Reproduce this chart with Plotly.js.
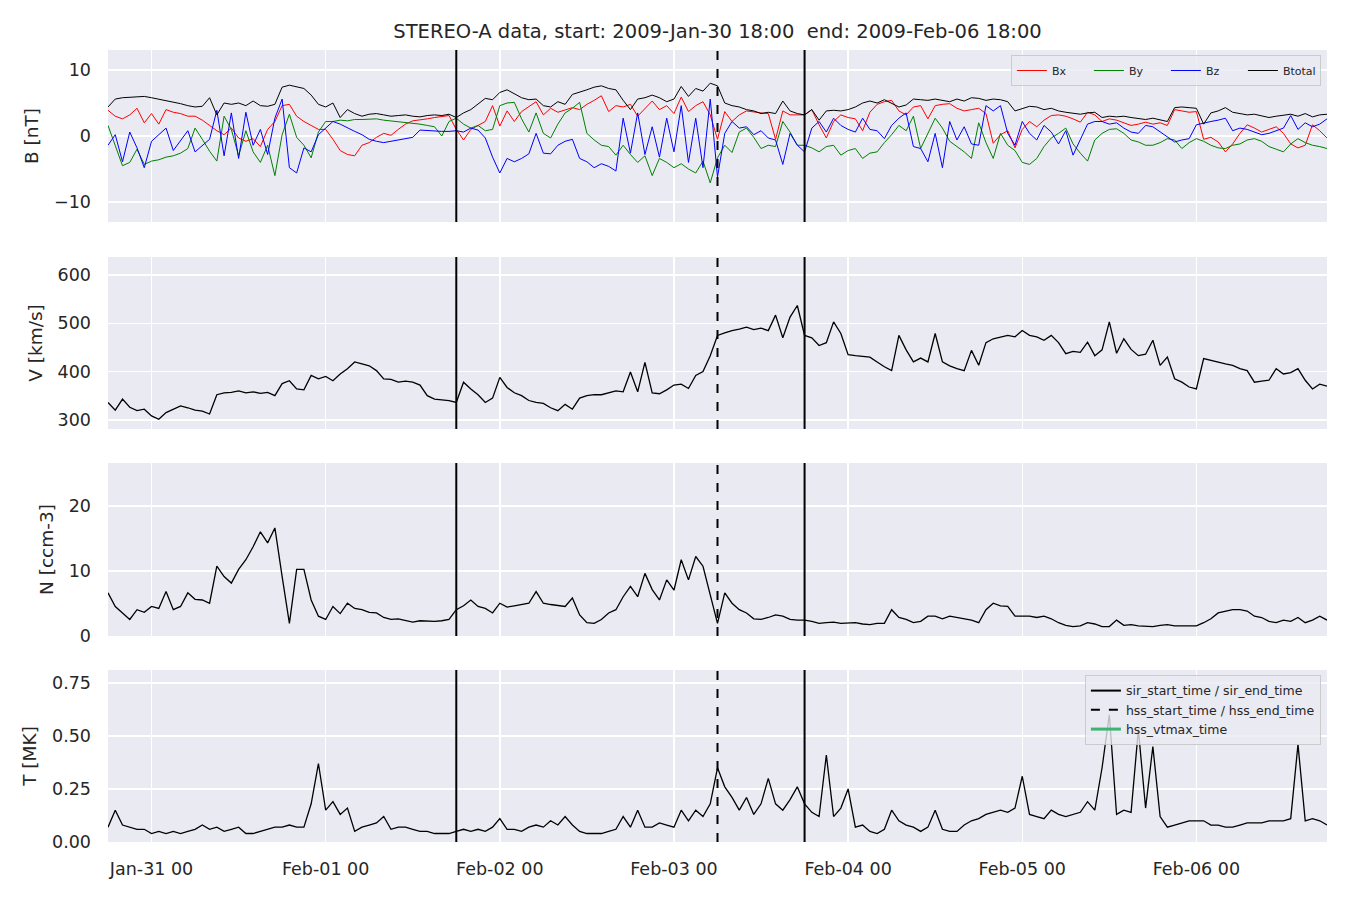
<!DOCTYPE html>
<html><head><meta charset="utf-8">
<script src="https://cdn.plot.ly/plotly-3.0.1.min.js"></script>
<style>html,body{margin:0;padding:0;background:#fff}#chart{width:1350px;height:900px}</style>
</head><body><div id="chart"></div>
<script>
// ---- data (hourly readings, start 2009-01-30 18:00 UTC) ----
const startTime = '2009-01-30 18:00';
const endTime = '2009-02-06 18:00';
const firstTick = '2009-01-31 00:00';
const titleText = 'STEREO-A data, start: 2009-Jan-30 18:00\u00a0 end: 2009-Feb-06 18:00';

const bx = [
 3.9, 3.0, 2.6, 3.2, 4.2, 2.0, 3.4, 1.8, 4.0, 3.6, 3.4, 3.0,
 3.0, 2.4, 1.6, 0.8, 0.2, 1.2, -0.3, -0.8, -0.4, -1.6, 1.0, 2.2,
 4.6, 4.8, 3.0, 2.2, 1.6, 1.0, 1.0, -0.5, -2.2, -2.8, -3.0, -1.4,
 -1.0, -0.2, 0.4, 0.1, 1.0, 1.8, 2.3, 2.4, 2.6, 2.8, 3.0, 3.1,
 1.0, -0.6, 1.0, 1.6, 2.2, 4.6, 1.5, 3.8, 2.2, 3.7, 4.4, 5.2,
 3.2, 4.2, 3.6, 4.0, 4.3, 4.0, 4.8, 5.4, 6.1, 3.7, 4.6, 4.4,
 4.8, 3.0, 4.2, 5.3, 4.0, 4.6, 3.4, 5.9, 3.7, 4.6, 5.2, 3.2,
 -0.5, 3.7, 2.2, 3.2, 3.8, 3.6, 3.5, 3.4, -0.5, 3.8, 3.2, 3.2,
 3.2, 4.0, 1.7, -0.3, 2.2, 3.2, 2.8, 2.6, 0.8, 3.6, 4.8, 5.2,
 5.4, 3.8, 3.2, 4.4, 4.6, 2.6, 4.6, 4.8, 4.9, 4.2, 3.8, 4.0,
 4.2, 3.4, -1.1, 0.2, 0.8, -1.8, 1.0, 2.2, 1.4, 2.4, 3.1, 3.2,
 3.0, 2.6, 2.1, 3.6, 3.2, 2.2, 2.6, 2.4, 2.0, 1.6, 1.8, 2.1,
 1.8, 2.0, 1.6, 4.0, 3.8, 3.6, 3.7, -0.5, -0.2, -0.9, -2.4, -1.2,
 0.4, 1.7, 1.2, 0.6, 1.0, 1.4, 0.4, -1.2, -1.8, -1.4, 1.7, 0.8,
 -0.3];
const by = [
 1.6, -1.3, -4.5, -4.0, -2.0, -4.3, -3.8, -3.6, -3.2, -3.0, -2.6, -1.9,
 1.2, -0.5, -2.3, -3.8, 3.0, 1.0, -3.0, 0.8, -2.4, -4.0, -1.4, -6.0,
 0.2, 3.3, -0.2, -1.4, -3.3, 0.6, 2.2, 2.2, 2.4, 2.3, 2.5, 2.5,
 2.5, 2.6, 2.4, 2.3, 2.2, 2.0, 1.9, 1.8, 1.6, 1.4, 0.0, 2.2,
 2.7, 1.8, 1.2, 1.6, 0.8, 1.0, 4.6, 5.0, 5.1, 2.6, 0.6, 3.5,
 0.4, -0.3, 1.8, 3.5, 4.2, 5.1, 0.4, -0.6, -1.4, -1.6, -2.9, -1.4,
 -2.8, -4.0, -3.0, -6.0, -3.4, -4.0, -4.8, -4.2, -5.0, -5.6, -3.8, -7.1,
 -3.3, -1.4, -2.5, 0.6, 1.2, -0.2, -1.9, -1.4, -1.6, 2.2, 0.6, -1.4,
 -1.4, -1.8, -2.4, -1.6, -1.4, -2.9, -2.2, -1.9, -3.4, -2.6, -2.4, -1.0,
 0.2, 1.6, 0.8, 3.0, -1.9, 0.4, 2.7, 1.2, -0.8, -1.6, -2.4, -3.4,
 2.0, -1.0, -3.4, 0.4, -1.4, -2.2, -4.0, -4.3, -3.4, -1.6, -0.3, 0.4,
 1.2, -1.2, -2.6, -3.8, -0.6, 0.4, 1.0, 1.1, 0.4, -0.6, -0.9, -1.4,
 -1.4, -1.0, -0.4, -0.6, -1.9, -1.0, -0.4, -0.8, -1.4, -1.8, -1.9, -1.4,
 -1.2, -0.6, -0.4, -0.8, -1.6, -2.0, -2.4, -1.2, -0.4, -1.0, -1.4, -1.6,
 -1.9];
const bz = [
 -1.4, 0.2, -3.9, 0.6, -1.8, -4.8, -0.8, 0.2, 1.2, -2.2, -0.6, 0.8,
 -2.4, -1.4, -0.5, 3.9, -3.0, 3.5, -3.4, 3.6, -1.4, 1.0, -2.8, 2.7,
 5.6, -4.8, -5.6, -1.8, -2.4, 0.2, 1.2, 2.2, 1.8, 1.2, 0.7, 0.2,
 -0.5, -0.8, -1.0, -0.8, -0.6, -0.4, -0.2, 0.9, 0.8, 0.8, 0.7, 0.7,
 0.8, 0.6, 1.2, 0.9, -0.3, -3.2, -5.6, -3.4, -3.9, -3.4, -2.7, 0.4,
 -2.6, -2.7, -1.4, -0.8, -0.5, -3.4, -3.9, -4.8, -4.2, -4.6, -5.3, 2.7,
 -2.6, 3.5, -2.8, 1.4, -3.2, 2.7, -2.4, 4.6, -4.0, 2.7, -4.8, 5.6,
 -6.2, 0.4, 2.2, 1.2, 1.4, 0.2, 0.8, -0.3, -0.6, -4.3, 0.4, -1.4,
 -2.4, 1.2, 2.2, 0.6, 2.7, 1.6, 1.0, 0.6, 2.7, 1.0, 0.8, -0.4,
 1.6, 2.7, 3.5, -1.6, -1.9, -3.9, 0.4, -4.8, 2.2, -0.6, 1.4, -1.2,
 -1.4, 4.6, 3.8, 4.6, 0.4, -1.4, 2.2, 0.4, -0.6, 1.6, 0.6, -1.2,
 0.8, -2.9, -0.6, 1.8, 2.2, 2.2, 1.8, 2.0, 1.2, 0.6, 0.4, 1.6,
 1.4, 0.6, -0.2, -0.9, -0.6, -0.4, 1.7, 2.0, 2.2, 2.4, 2.7, 0.8,
 1.2, 1.0, 0.6, 0.2, 0.4, 0.8, 1.2, 3.1, 1.0, 2.0, 1.4, 1.8,
 2.6];
const btotal = [
 4.4, 5.6, 5.8, 5.9, 6.0, 6.0, 5.8, 5.6, 5.3, 5.1, 4.9, 4.6,
 4.4, 4.5, 5.8, 3.2, 5.0, 4.8, 5.0, 4.6, 5.3, 4.6, 4.5, 4.8,
 7.4, 7.7, 7.4, 7.2, 6.2, 4.8, 4.4, 5.0, 2.8, 4.0, 3.4, 3.0,
 3.3, 3.4, 3.2, 3.0, 3.1, 3.2, 3.0, 2.9, 3.1, 3.2, 3.1, 3.3,
 2.8, 3.5, 4.0, 4.8, 5.7, 5.5, 6.6, 7.0, 6.4, 5.8, 5.5, 5.6,
 4.6, 4.4, 5.2, 4.8, 6.3, 6.6, 7.0, 7.4, 7.6, 7.2, 7.0, 5.4,
 4.0, 5.6, 5.8, 6.2, 5.8, 5.2, 5.6, 7.5, 6.0, 7.2, 6.8, 8.0,
 7.6, 5.0, 4.6, 4.4, 4.0, 3.8, 3.4, 3.6, 3.4, 5.3, 3.8, 3.4,
 3.2, 4.0, 2.4, 3.8, 3.9, 3.8, 4.0, 4.4, 5.0, 5.3, 5.0, 5.5,
 5.0, 4.4, 4.7, 5.6, 5.5, 5.4, 5.6, 5.4, 5.2, 5.6, 5.3, 5.8,
 5.7, 5.4, 5.6, 5.5, 5.2, 3.8, 4.2, 4.5, 4.4, 4.0, 4.2, 3.8,
 3.6, 3.4, 3.3, 3.5, 3.6, 2.8, 3.0, 2.9, 3.0, 2.8, 2.6, 2.5,
 2.7, 2.4, 2.2, 4.3, 4.4, 4.3, 4.2, 1.8, 3.5, 3.8, 4.3, 3.6,
 3.4, 3.2, 3.3, 3.0, 2.8, 3.0, 3.2, 3.3, 3.0, 3.4, 2.9, 3.2,
 3.3];
const speed = [
 336, 320, 343, 326, 319, 322, 308, 301, 315, 322, 329, 325,
 320, 318, 312, 352, 356, 357, 360, 356, 358, 355, 357, 350,
 375, 381, 364, 362, 392, 385, 390, 381, 395, 406, 420, 416,
 412, 402, 385, 384, 378, 380, 378, 372, 350, 343, 341, 340,
 336, 378, 364, 352, 336, 345, 388, 367, 356, 350, 340, 336,
 334, 325, 319, 332, 322, 345, 350, 352, 352, 356, 360, 358,
 399, 358, 419, 356, 354, 362, 372, 374, 365, 392, 400, 433,
 475, 480, 485, 488, 492, 487, 490, 485, 517, 470, 513, 537,
 475, 470, 454, 460, 503, 479, 435, 433, 432, 430, 420, 410,
 402, 475, 445, 420, 428, 420, 479, 420, 412, 406, 402, 444,
 413, 460, 468, 472, 475, 472, 485, 475, 472, 465, 475, 460,
 437, 442, 440, 461, 433, 445, 503, 438, 468, 446, 433, 436,
 465, 413, 430, 385, 378, 368, 364, 427, 423, 420, 416, 413,
 406, 402, 378, 380, 382, 406, 395, 398, 406, 382, 364, 374,
 370];
const density = [
 6.6, 4.5, 3.5, 2.5, 4.0, 3.6, 4.5, 4.2, 6.8, 4.0, 4.5, 6.6,
 5.6, 5.5, 5.0, 10.7, 9.1, 8.1, 10.2, 11.7, 13.7, 16.0, 14.3, 16.6,
 9.1, 1.9, 10.2, 10.2, 5.5, 3.0, 2.5, 4.5, 3.4, 5.0, 4.2, 4.0,
 3.6, 3.5, 2.8, 2.5, 2.6, 2.4, 2.1, 2.3, 2.2, 2.2, 2.3, 2.5,
 4.0, 4.6, 5.5, 4.5, 4.2, 3.5, 5.0, 4.4, 4.6, 4.8, 5.0, 6.8,
 5.0, 4.8, 4.6, 4.5, 5.8, 3.2, 2.0, 1.9, 2.5, 3.5, 4.0, 6.0,
 7.6, 6.0, 9.6, 7.1, 5.5, 8.6, 7.0, 11.7, 8.6, 12.2, 10.7, 6.5,
 1.9, 6.6, 5.0, 4.0, 3.5, 2.6, 2.5, 2.8, 3.2, 3.0, 2.5, 2.4,
 2.4, 2.2, 1.9, 2.0, 2.1, 1.9, 1.9, 2.0, 1.8, 1.7, 1.9, 1.9,
 4.0, 2.8, 2.5, 2.0, 2.2, 3.0, 3.0, 2.6, 3.0, 2.8, 2.6, 2.4,
 2.0, 4.0, 5.0, 4.6, 4.5, 3.0, 3.0, 3.0, 2.8, 3.0, 2.6, 2.0,
 1.6, 1.4, 1.5, 2.0, 1.8, 1.4, 1.4, 2.4, 1.6, 1.7, 1.5, 1.5,
 1.4, 1.6, 1.7, 1.5, 1.5, 1.4, 1.5, 2.0, 2.6, 3.5, 3.8, 4.0,
 4.0, 3.8, 3.0, 2.8, 2.2, 2.0, 2.4, 2.2, 2.8, 2.0, 2.4, 3.0,
 2.4];
const temperature = [
 0.07, 0.15, 0.08, 0.07, 0.06, 0.06, 0.04, 0.05, 0.04, 0.05, 0.04, 0.05,
 0.06, 0.08, 0.06, 0.07, 0.05, 0.06, 0.07, 0.04, 0.04, 0.05, 0.06, 0.07,
 0.07, 0.08, 0.07, 0.07, 0.18, 0.37, 0.15, 0.19, 0.13, 0.16, 0.05, 0.07,
 0.08, 0.09, 0.12, 0.06, 0.07, 0.07, 0.06, 0.05, 0.05, 0.04, 0.04, 0.04,
 0.05, 0.06, 0.05, 0.06, 0.05, 0.07, 0.11, 0.06, 0.06, 0.05, 0.07, 0.08,
 0.07, 0.10, 0.08, 0.12, 0.08, 0.05, 0.04, 0.04, 0.04, 0.05, 0.06, 0.12,
 0.07, 0.15, 0.07, 0.07, 0.09, 0.08, 0.07, 0.15, 0.10, 0.15, 0.12, 0.18,
 0.35, 0.26, 0.21, 0.15, 0.21, 0.13, 0.18, 0.30, 0.18, 0.15, 0.20, 0.26,
 0.18, 0.14, 0.12, 0.41, 0.12, 0.16, 0.25, 0.07, 0.08, 0.05, 0.04, 0.06,
 0.15, 0.10, 0.08, 0.07, 0.05, 0.07, 0.15, 0.06, 0.05, 0.05, 0.08, 0.10,
 0.11, 0.13, 0.14, 0.15, 0.14, 0.16, 0.31, 0.13, 0.12, 0.11, 0.15, 0.13,
 0.12, 0.13, 0.14, 0.19, 0.15, 0.35, 0.60, 0.13, 0.15, 0.14, 0.53, 0.16,
 0.45, 0.12, 0.07, 0.08, 0.09, 0.10, 0.10, 0.10, 0.08, 0.08, 0.07, 0.07,
 0.08, 0.09, 0.09, 0.09, 0.10, 0.10, 0.10, 0.11, 0.46, 0.10, 0.11, 0.10,
 0.08];

// event times
const sirTimes = ['2009-02-01 18:00', '2009-02-03 18:00'];
const hssTimes = ['2009-02-03 06:00'];

// ---- build ----
function hourlyTimes(n) {
  const t0 = Date.UTC(2009, 0, 30, 18);
  const out = [];
  for (let i = 0; i < n; i++) {
    out.push(new Date(t0 + i * 3600000).toISOString().slice(0, 16).replace('T', ' '));
  }
  return out;
}
const times = hourlyTimes(btotal.length);

const txt = '#262626';
const fontFam = 'DejaVu Sans, Verdana, sans-serif';

function line(y, color, name, xa, ya, width, legend) {
  return {x: times, y: y, type: 'scatter', mode: 'lines', name: name,
    line: {color: color, width: width}, xaxis: xa, yaxis: ya,
    showlegend: !!legend, legend: legend || 'legend', hoverinfo: 'skip'};
}

const traces = [
  line(bx, '#ff0000', 'Bx', 'x', 'y', 1, 'legend'),
  line(by, '#008000', 'By', 'x', 'y', 1, 'legend'),
  line(bz, '#0000ff', 'Bz', 'x', 'y', 1, 'legend'),
  line(btotal, '#000000', 'Btotal', 'x', 'y', 1, 'legend'),
  line(speed, '#000000', 'V', 'x2', 'y2', 1.3),
  line(density, '#000000', 'N', 'x3', 'y3', 1.3),
  line(temperature, '#000000', 'T', 'x4', 'y4', 1.3),
  {x: [null], y: [null], type: 'scatter', mode: 'lines', name: 'sir_start_time / sir_end_time',
   line: {color: '#000', width: 2}, xaxis: 'x4', yaxis: 'y4', legend: 'legend2', showlegend: true},
  {x: [null], y: [null], type: 'scatter', mode: 'lines', name: 'hss_start_time / hss_end_time',
   line: {color: '#000', width: 2, dash: 'dash'}, xaxis: 'x4', yaxis: 'y4', legend: 'legend2', showlegend: true},
  {x: [null], y: [null], type: 'scatter', mode: 'lines', name: 'hss_vtmax_time',
   line: {color: '#3cb371', width: 3}, xaxis: 'x4', yaxis: 'y4', legend: 'legend2', showlegend: true}
];

const shapes = [];
['y', 'y2', 'y3', 'y4'].forEach((ya, k) => {
  const xa = k === 0 ? 'x' : 'x' + (k + 1);
  sirTimes.forEach(t => shapes.push({type: 'line', xref: xa, yref: ya + ' domain', x0: t, x1: t, y0: 0, y1: 1,
    line: {color: '#000', width: 2}}));
  hssTimes.forEach(t => shapes.push({type: 'line', xref: xa, yref: ya + ' domain', x0: t, x1: t, y0: 0, y1: 1,
    line: {color: '#000', width: 2, dash: 'dash'}}));
});

function xAxis(showLabels) {
  return {type: 'date', range: [startTime, endTime], tick0: firstTick, dtick: 86400000,
    tickformat: '%b-%d %H', showgrid: true, gridcolor: '#ffffff', gridwidth: 1.5,
    zeroline: false, showline: false, ticks: '', showticklabels: showLabels,
    ticklabelstandoff: 14, tickfont: {size: 17.5, color: txt, family: fontFam}};
}
function yAxis(domain, range, dtick, title, fmt) {
  return {domain: domain, range: range, dtick: dtick, tick0: 0, tickformat: fmt || '',
    showgrid: true, gridcolor: '#ffffff', gridwidth: 1.5, zeroline: false, showline: false, ticks: '',
    ticklabelstandoff: 16, tickfont: {size: 17.5, color: txt, family: fontFam},
    title: {text: title, standoff: 10, font: {size: 18.5, color: txt, family: fontFam}}};
}

const layout = {
  width: 1350, height: 900,
  margin: {l: 108, r: 23, t: 50, b: 58},
  paper_bgcolor: '#ffffff', plot_bgcolor: '#eaeaf2',
  font: {family: fontFam, color: txt},
  title: {text: titleText, x: 0.5, xref: 'paper', y: 1 - 31 / 900, yref: 'container', yanchor: 'middle',
    font: {size: 19.5, color: txt, family: fontFam}},
  xaxis: Object.assign(xAxis(false), {anchor: 'y'}),
  xaxis2: Object.assign(xAxis(false), {anchor: 'y2', matches: 'x'}),
  xaxis3: Object.assign(xAxis(false), {anchor: 'y3', matches: 'x'}),
  xaxis4: Object.assign(xAxis(true), {anchor: 'y4', matches: 'x'}),
  yaxis: Object.assign(yAxis([0.7828, 1], [-13.03, 13.03], 10, 'B [nT]'), {anchor: 'x'}),
  yaxis2: Object.assign(yAxis([0.5215, 0.7386], [281, 637.5], 100, 'V [km/s]'), {anchor: 'x2'}),
  yaxis3: Object.assign(yAxis([0.2601, 0.4785], [-0.05, 26.6], 10, 'N [ccm-3]'), {anchor: 'x3'}),
  yaxis4: Object.assign(yAxis([0, 0.2172], [0, 0.811], 0.25, 'T [MK]', '.2f'), {anchor: 'x4'}),
  shapes: shapes,
  legend: {orientation: 'h', x: 0.995, xanchor: 'right', y: 0.9937, yanchor: 'top',
    bgcolor: 'rgba(234,234,242,0.8)', bordercolor: 'rgba(200,200,200,0.9)', borderwidth: 1,
    font: {size: 11, color: txt, family: fontFam}, entrywidth: 32, entrywidthmode: 'pixels',
    itemwidth: 30, tracegroupgap: 0},
  legend2: {orientation: 'v', x: 0.995, xanchor: 'right', y: 0.2109, yanchor: 'top',
    bgcolor: 'rgba(234,234,242,0.8)', bordercolor: 'rgba(200,200,200,0.9)', borderwidth: 1,
    font: {size: 12.5, color: txt, family: fontFam}, itemwidth: 30, tracegroupgap: 0},
  showlegend: true
};

Plotly.newPlot('chart', traces, layout, {staticPlot: true, displayModeBar: false});
</script>
</body></html>
